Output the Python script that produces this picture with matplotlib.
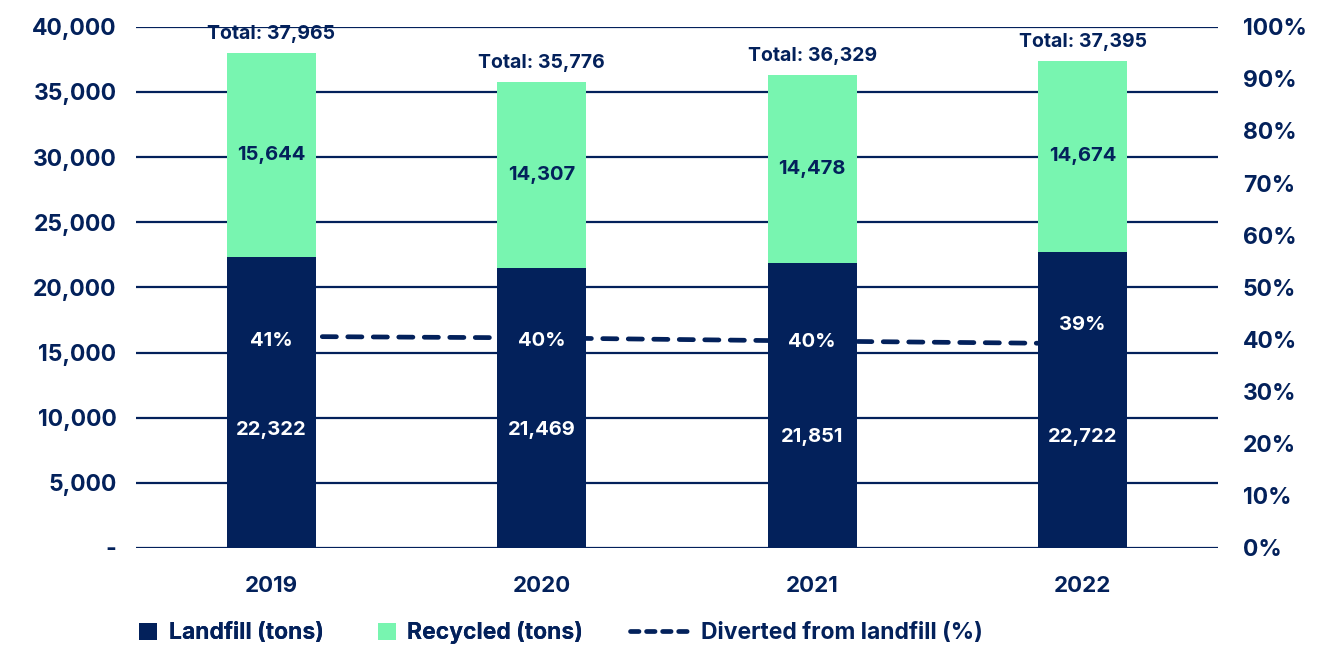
import matplotlib
matplotlib.use("Agg")
import matplotlib.pyplot as plt
from matplotlib.ticker import FuncFormatter, MultipleLocator
from matplotlib.patches import Patch
from matplotlib.lines import Line2D

# ---- data ----
years = ["2019", "2020", "2021", "2022"]
landfill = [22322, 21469, 21851, 22722]
recycled = [15644, 14307, 14478, 14674]
totals = [37965, 35776, 36329, 37395]
diverted_pct = [40.6, 40.3, 39.7, 39.2]

# ---- style ----
NAVY = "#03215B"
GREEN = "#78F5B0"
FONT = ["Inter", "DejaVu Sans"]
plt.rcParams["font.family"] = FONT
plt.rcParams["font.weight"] = "bold"
FS = 15
LFS = 16.5

fig = plt.figure(figsize=(13.33, 6.48), dpi=100)
ax = fig.add_axes([136 / 1333, 1 - 548 / 648, (1218 - 136) / 1333, (548 - 26.7) / 648])
ax2 = ax.twinx()

x = list(range(len(years)))
bw = 0.33

# gridlines
ax.set_ylim(0, 40000)
ax.yaxis.set_major_locator(MultipleLocator(5000))
ax.grid(axis="y", color=NAVY, linewidth=1.6, zorder=0)
ax.set_axisbelow(True)
ax.set_xlim(-0.5, 3.5)

# dashed line (behind bars)
ax2.set_ylim(0, 1)
ax2.plot(x, [v / 100 for v in diverted_pct], color=NAVY, linewidth=3.4,
         dashes=(3.0, 2.4), dash_capstyle="round", zorder=1)
ax2.set_zorder(1)
ax.set_zorder(2)
ax.patch.set_visible(False)

b1 = ax.bar(x, landfill, width=bw, color=NAVY, zorder=3)
b2 = ax.bar(x, recycled, width=bw, bottom=landfill, color=GREEN, zorder=3)

# labels
landfill_label_y = [9050, 9050, 8500, 8500]
pct_offsets = [-3.5, -2.0, -0.5, 13.5]
for i in x:
    ax.text(i, landfill_label_y[i], f"{landfill[i]:,}", ha="center", va="center",
            color="white", fontsize=FS - 0.5, fontweight="bold", zorder=5)
    ax.text(i, landfill[i] + recycled[i] / 2, f"{recycled[i]:,}", ha="center", va="center",
            color=NAVY, fontsize=FS - 0.5, fontweight="bold", zorder=5)
    ax.annotate(f"Total: {totals[i]:,}", xy=(i, landfill[i] + recycled[i]),
                xytext=(0, 13.5), textcoords="offset points", ha="center", va="center",
                color=NAVY, fontsize=FS - 1, fontweight="bold", zorder=5,
                annotation_clip=False)
    py = diverted_pct[i] / 100
    yd = ax.transData.inverted().transform(ax2.transData.transform((i, py)))[1]
    ax.annotate(f"{round(diverted_pct[i])}%", xy=(i, yd), xytext=(0, pct_offsets[i]),
                textcoords="offset points", ha="center", va="center",
                color="white", fontsize=FS - 0.5, fontweight="bold", zorder=5)

# axes styling
for a in (ax, ax2):
    for s in a.spines.values():
        s.set_visible(False)
ax.tick_params(axis="both", length=0, colors=NAVY, labelsize=FS + 1.5)
ax.tick_params(axis="y", pad=14)
ax.tick_params(axis="x", pad=20, labelsize=FS + 1)
ax.set_xticks(x)
ax.set_xticklabels(years, fontweight="bold")
ax.yaxis.set_major_formatter(FuncFormatter(lambda v, p: "-" if v == 0 else f"{int(v):,}"))
for t in ax.get_yticklabels():
    t.set_fontweight("bold")

ax2.yaxis.set_major_locator(MultipleLocator(0.1))
ax2.yaxis.set_major_formatter(FuncFormatter(lambda v, p: f"{round(v * 100)}%"))
ax2.tick_params(axis="y", length=0, colors=NAVY, labelsize=FS + 1.5, pad=18)
for t in ax2.get_yticklabels():
    t.set_fontweight("bold")

# legends
ly = 1 - 633 / 648
h1 = [Patch(facecolor=NAVY, edgecolor="none", label="Landfill (tons)"),
      Patch(facecolor=GREEN, edgecolor="none", label="Recycled (tons)")]
leg1 = fig.legend(handles=h1, loc="center left", bbox_to_anchor=(139 / 1333, ly), ncol=2,
                  frameon=False, handlelength=0.8, handleheight=0.8,
                  handletextpad=0.5, columnspacing=2.35, borderpad=0, borderaxespad=0,
                  labelcolor=NAVY, prop={"weight": "bold", "size": LFS, "family": FONT})
h2 = [Line2D([], [], color=NAVY, linewidth=3.4, dashes=(1.8, 1.6), dash_capstyle="round",
             label="Diverted from landfill (%)")]
leg2 = fig.legend(handles=h2, loc="center left", bbox_to_anchor=(630 / 1333, ly),
                  frameon=False, handlelength=2.6, handletextpad=0.5, borderpad=0,
                  borderaxespad=0, labelcolor=NAVY,
                  prop={"weight": "bold", "size": LFS, "family": FONT})
fig.add_artist(leg1)

fig.savefig("out.png", dpi=100)
